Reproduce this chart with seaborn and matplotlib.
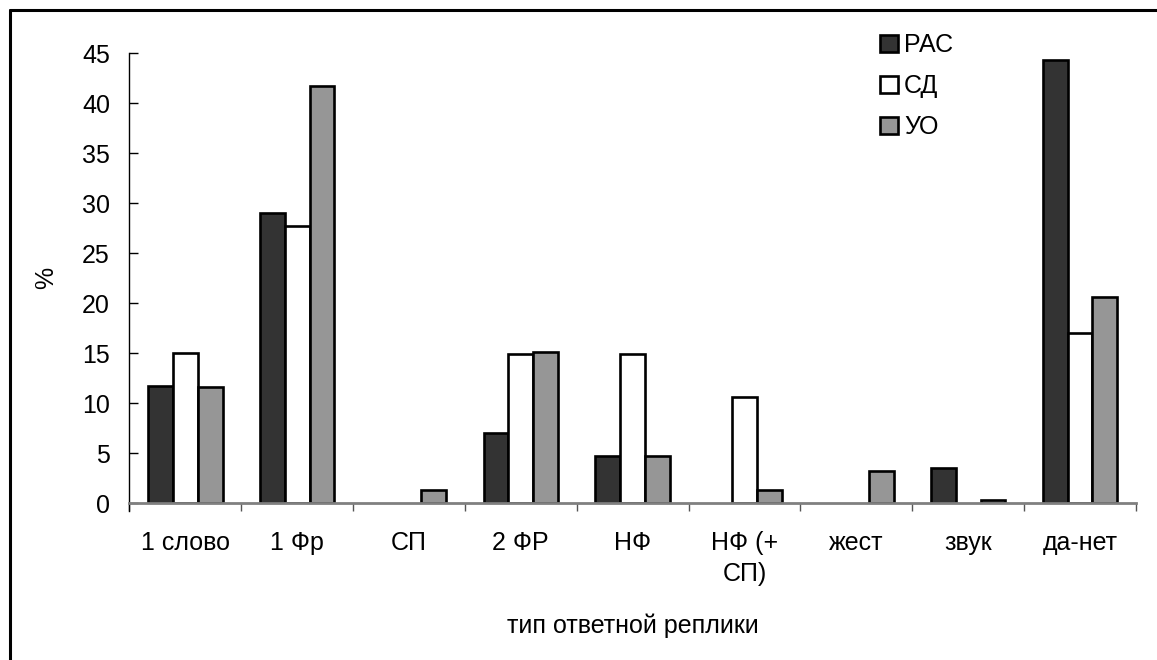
import matplotlib
matplotlib.use("Agg")
import matplotlib.pyplot as plt
import seaborn as sns
import pandas as pd
from matplotlib.lines import Line2D

categories = ["1 слово", "1 Фр", "СП", "2 ФР", "НФ", "НФ (+\nСП)", "жест", "звук", "да-нет"]
series_names = ["РАС", "СД", "УО"]
ras = [11.7, 29.0, 0.0, 7.0, 4.7, 0.0, 0.0, 3.5, 44.3]
sd = [15.0, 27.7, 0.0, 14.9, 14.9, 10.6, 0.0, 0.0, 17.0]
uo = [11.6, 41.7, 1.3, 15.1, 4.7, 1.3, 3.2, 0.3, 20.6]
colors = ["#333333", "#ffffff", "#969696"]
y_ticks = [0, 5, 10, 15, 20, 25, 30, 35, 40, 45]

rows = []
for name, vals in zip(series_names, [ras, sd, uo]):
    for c, v in zip(categories, vals):
        rows.append({"cat": c, "series": name, "value": v})
df = pd.DataFrame(rows)

sns.set_theme(style="white")
plt.rcParams["font.family"] = ["Liberation Sans", "DejaVu Sans"]
plt.rcParams["text.color"] = "black"
plt.rcParams["xtick.color"] = "black"
plt.rcParams["ytick.color"] = "black"
plt.rcParams["axes.labelcolor"] = "black"

FS = 18

fig = plt.figure(figsize=(11.57, 6.6), dpi=100)
ax = fig.add_axes([0.1118, 0.2374, 0.8700, 0.6816])

sns.barplot(data=df, x="cat", y="value", hue="series", order=categories,
            hue_order=series_names, palette=colors, width=0.667,
            edgecolor="black", linewidth=1.9, saturation=1, ax=ax, errorbar=None)

for p in ax.patches:
    if p.get_height() == 0:
        p.set_visible(False)

ax.set_ylim(0, 45)
ax.set_xlim(-0.5, len(categories) - 0.5)
ax.set_yticks(y_ticks)
ax.set_yticklabels([str(t) for t in y_ticks], fontsize=FS)
ax.tick_params(axis="y", direction="in", length=6.5, width=1, color="black", pad=14, left=True)

ax.set_xticks([i - 0.5 for i in range(len(categories) + 1)])
ax.set_xticklabels([""] * (len(categories) + 1))
ax.set_xticks(range(len(categories)), minor=True)
ax.set_xticklabels(categories, minor=True, fontsize=FS, linespacing=1.35)
ax.tick_params(axis="x", which="major", direction="out", length=6, width=1, color="#555555", bottom=True)
ax.tick_params(axis="x", which="minor", length=0, pad=20, bottom=True)

for s in ["top", "right"]:
    ax.spines[s].set_visible(False)
ax.spines["left"].set_color("black")
ax.spines["left"].set_linewidth(1)
ax.spines["left"].set_bounds(-0.8, 45)
ax.spines["bottom"].set_color("#808080")
ax.spines["bottom"].set_linewidth(2)

ax.set_xlabel("тип ответной реплики", fontsize=FS, labelpad=20)
ax.set_ylabel("%", fontsize=FS, labelpad=17)

sns.move_legend(ax, loc="upper left", bbox_to_anchor=(0.746, 1.045), frameon=False,
                title=None, fontsize=FS, handlelength=0.7, handleheight=0.7,
                handletextpad=0.25, labelspacing=0.68, borderpad=0, borderaxespad=0)

W, H = 1157, 660
fig.add_artist(Line2D([9.5 / W, 1], [1 - 9.5 / H, 1 - 9.5 / H], transform=fig.transFigure, color="black", linewidth=2.2))
fig.add_artist(Line2D([9.5 / W, 9.5 / W], [0, 1 - 9.5 / H], transform=fig.transFigure, color="black", linewidth=2.2))

fig.savefig("out.png", dpi=100)
